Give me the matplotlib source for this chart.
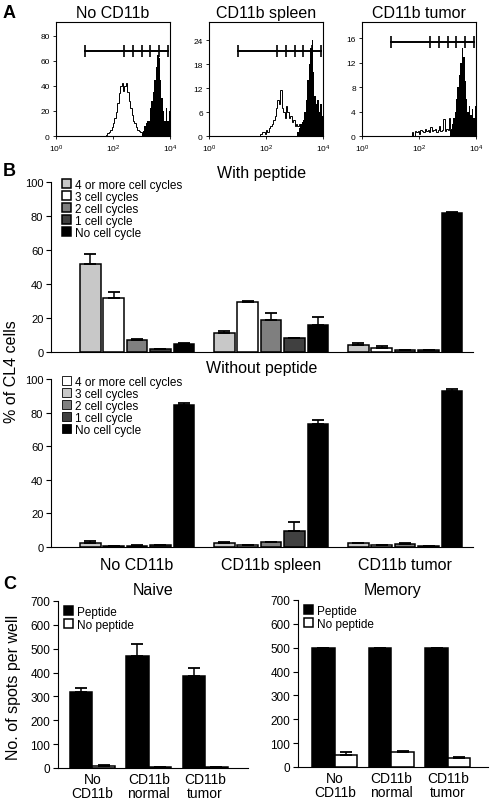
import numpy as np
import matplotlib
matplotlib.use('Agg')
import matplotlib.pyplot as plt
from matplotlib.patches import Patch

plt.rcParams['font.family'] = ['Liberation Sans', 'DejaVu Sans']

# ---- panel A: CFSE histograms (counts per 0.05 decade bin) ----
a_titles = ['No CD11b', 'CD11b spleen', 'CD11b tumor']
a_ymax = [91, 28.5, 18.7]
a_yticks = [[0, 20, 40, 60, 80], [0, 6, 12, 18, 24], [0, 4, 8, 12, 16]]
a_gate_y = [68, 21.3, 15.4]
gate_logs = [1.0, 2.4, 2.7, 3.0, 3.3, 3.6, 3.93]
bin_w = 0.05

open_start = [1.70, 1.80, 1.75]
open_counts = [
    [0, 1, 2, 3, 5, 7, 10, 14, 19, 26, 34, 40, 42, 36, 40, 42, 35, 28, 22, 17,
     12, 10, 7, 5, 4, 3, 2, 2, 1, 0],
    [0.5, 1, 1, 0.5, 1.5, 1, 2, 2.5, 3, 4, 5, 7, 9, 8, 11.5, 7, 6, 4.5, 7.5, 6,
     4.5, 5, 3.5, 4, 2.5, 3, 2.5, 3, 2, 1.5],
    [0.6, 0, 0.8, 0.6, 0.8, 0.4, 1.0, 0.8, 0.6, 1.2, 0.8, 1.0, 0.6, 1.4, 0.8,
     1.0, 1.2, 0.6, 1.0, 1.6, 0.8, 1.0, 2.8, 0.8, 1.2, 1.0, 3.0, 1.2],
]
filled_start = [3.00, 3.10, 3.10]
filled_counts = [
    [2, 4, 8, 10, 12, 12, 22, 28, 35, 45, 55, 65, 62, 45, 30, 20, 12, 22, 12, 20],
    [1, 2, 3, 3.5, 4, 6, 9, 14, 18, 22, 24, 16, 10, 8, 9, 6, 8, 5],
    [1, 2, 3, 4, 6, 8, 10, 12, 14.5, 13, 9, 6, 4, 5, 3.5, 4.5, 3, 5],
]

# ---- panel B: % of CL4 cells by number of cell cycles ----
b_groups = ['No CD11b', 'CD11b spleen', 'CD11b tumor']
cycle_labels = ['4 or more cell cycles', '3 cell cycles', '2 cell cycles',
                '1 cell cycle', 'No cell cycle']
with_pep = [[52, 31.5, 7, 1.5, 4.5],
            [11.3, 29.3, 18.6, 8.1, 16],
            [4.4, 2.6, 1.0, 1.0, 81.5]]
with_pep_err = [[5.5, 4, 0.4, 0.3, 0.8],
                [0.8, 0.5, 4.2, 0.3, 4.4],
                [0.9, 0.8, 0.2, 0.2, 0.6]]
without_pep = [[2.4, 0.6, 0.7, 1.0, 84.5],
               [2.4, 1.2, 2.8, 9.5, 73.5],
               [2.2, 1.0, 1.6, 0.6, 93.0]]
without_pep_err = [[1.0, 0.2, 0.3, 0.4, 1.0],
                   [0.8, 0.2, 0.3, 5.3, 1.8],
                   [0.4, 0.2, 0.8, 0.2, 0.8]]
bar_colors = ['#c8c8c8', 'white', '#7f7f7f', '#404040', 'black']
legend_colors_lower = ['white', '#c8c8c8', '#7f7f7f', '#404040', 'black']

# ---- panel C: ELISPOT ----
c_groups = ['No\nCD11b', 'CD11b\nnormal', 'CD11b\ntumor']
naive_pep = [318, 470, 385]
naive_pep_err = [17, 48, 33]
naive_nopep = [10, 5, 3]
naive_nopep_err = [3, 1, 1]
memory_pep = [500, 500, 500]
memory_pep_err = [0, 0, 0]
memory_nopep = [52, 62, 38]
memory_nopep_err = [10, 3, 6]

W, H = 490, 812
fig = plt.figure(figsize=(W / 100, H / 100), dpi=100)


def px_axes(x0, y0, x1, y1):
    return fig.add_axes([x0 / W, 1 - y1 / H, (x1 - x0) / W, (y1 - y0) / H])


# panel A
a_left = [56, 209, 362]
for k in range(3):
    ax = px_axes(a_left[k], 23, a_left[k] + 114, 137)
    ax.set_xscale('log')
    fe = 10 ** (filled_start[k] + bin_w * np.arange(len(filled_counts[k]) + 1))
    ax.stairs(filled_counts[k], fe, fill=True, color='black')
    oe = 10 ** (open_start[k] + bin_w * np.arange(len(open_counts[k]) + 1))
    ax.stairs(open_counts[k], oe, color='black', lw=0.7)
    gx = 10 ** np.array(gate_logs)
    ax.plot([gx[0], gx[-1]], [a_gate_y[k]] * 2, color='black', lw=1.4)
    ax.plot(gx, [a_gate_y[k]] * len(gx), ls='none', marker='|', ms=8,
            mew=1.2, color='black')
    ax.set_xlim(1, 1e4)
    ax.set_ylim(0, a_ymax[k])
    ax.set_yticks(a_yticks[k])
    ax.tick_params(labelsize=6, length=2.5, width=0.6, pad=2)
    ax.tick_params(which='minor', length=1.5, width=0.5)
    for s in ax.spines.values():
        s.set_linewidth(0.8)
    fig.text((a_left[k] + 57) / W, 1 - 18 / H, a_titles[k], ha='center',
             va='baseline', fontsize=11.5)

fig.text(3 / W, 1 - 18 / H, 'A', fontsize=13, fontweight='bold', va='baseline')
fig.text(3 / W, 1 - 176 / H, 'B', fontsize=13, fontweight='bold', va='baseline')
fig.text(3 / W, 1 - 589 / H, 'C', fontsize=13, fontweight='bold', va='baseline')

# panel B
x = np.arange(3)
off = 0.175
bw = 0.155
axu = px_axes(51, 183, 473, 353)
axl = px_axes(51, 380, 473, 548)
for ax, vals, errs in [(axu, with_pep, with_pep_err),
                       (axl, without_pep, without_pep_err)]:
    vals = np.array(vals)
    errs = np.array(errs)
    for i in range(5):
        ax.bar(x + (i - 2) * off, vals[:, i], bw, color=bar_colors[i],
               edgecolor='black', lw=1.1, label=cycle_labels[i],
               yerr=[np.zeros(3), errs[:, i]], capsize=4.3,
               error_kw=dict(elinewidth=1.1, capthick=1.3))
    ax.set_xlim(-0.642, 2.507)
    ax.set_ylim(0, 100)
    ax.set_yticks([0, 20, 40, 60, 80, 100])
    ax.spines['top'].set_visible(False)
    ax.spines['right'].set_visible(False)
    ax.tick_params(axis='y', labelsize=8, length=3.5, width=0.8, pad=2)
    ax.tick_params(axis='x', length=0)
axu.set_xticks([])
axl.set_xticks(x)
axl.set_xticklabels(b_groups, fontsize=11.5)
axl.tick_params(axis='x', pad=7)

leg_kw = dict(loc='upper left', bbox_to_anchor=(0.025, 1.02), borderaxespad=0,
              borderpad=0, handlelength=0.8, handleheight=0.8,
              handletextpad=0.35, labelspacing=0.0, frameon=False,
              fontsize=8.5)
axu.legend(**leg_kw)
axl.legend(handles=[Patch(facecolor=c, edgecolor='black', lw=0.6, label=l)
                    for c, l in zip(legend_colors_lower, cycle_labels)],
           **leg_kw)
fig.text(262 / W, 1 - 178 / H, 'With peptide', ha='center', va='baseline',
         fontsize=11.5)
fig.text(262 / W, 1 - 373 / H, 'Without peptide', ha='center',
         va='baseline', fontsize=11.5)
fig.text(12 / W, 1 - 372 / H, '% of CL4 cells', rotation=90, ha='center',
         va='center', fontsize=11.5)

# panel C
c_panels = [((58, 602, 248, 769), 'Naive', naive_pep, naive_pep_err,
             naive_nopep, naive_nopep_err, (-0.61, 2.76)),
            ((298, 601, 488, 768), 'Memory', memory_pep, memory_pep_err,
             memory_nopep, memory_nopep_err, (-0.65, 2.71))]
for box, title, pep, pep_err, nopep, nopep_err, xl in c_panels:
    ax = px_axes(*box)
    ax.bar(x - 0.2, pep, 0.4, color='black', edgecolor='black', lw=1.1,
           label='Peptide', yerr=[np.zeros(3), pep_err], capsize=4.3,
           error_kw=dict(elinewidth=1.1, capthick=1.3))
    ax.bar(x + 0.2, nopep, 0.4, color='white', edgecolor='black', lw=1.1,
           label='No peptide', yerr=[np.zeros(3), nopep_err], capsize=4.3,
           error_kw=dict(elinewidth=1.1, capthick=1.3))
    ax.set_xlim(*xl)
    ax.set_ylim(0, 700)
    ax.set_yticks(range(0, 701, 100))
    ax.set_xticks(x)
    ax.set_xticklabels(c_groups, fontsize=10, linespacing=0.95)
    ax.spines['top'].set_visible(False)
    ax.spines['right'].set_visible(False)
    ax.tick_params(axis='y', labelsize=8.5, length=3.5, width=0.8, pad=2)
    ax.tick_params(axis='x', length=0, pad=3)
    ax.legend(loc='upper left', bbox_to_anchor=(0.03, 0.97), borderaxespad=0,
              borderpad=0, handlelength=0.8, handleheight=0.8,
              handletextpad=0.3, labelspacing=0.05, frameon=False,
              fontsize=8.5)
    fig.text((box[0] + box[2]) / 2 / W, 1 - 595 / H, title, ha='center',
             va='baseline', fontsize=11.5)
fig.text(14 / W, 1 - 687 / H, 'No. of spots per well', rotation=90,
         ha='center', va='center', fontsize=11.5)

fig.savefig('out.png', dpi=100)
